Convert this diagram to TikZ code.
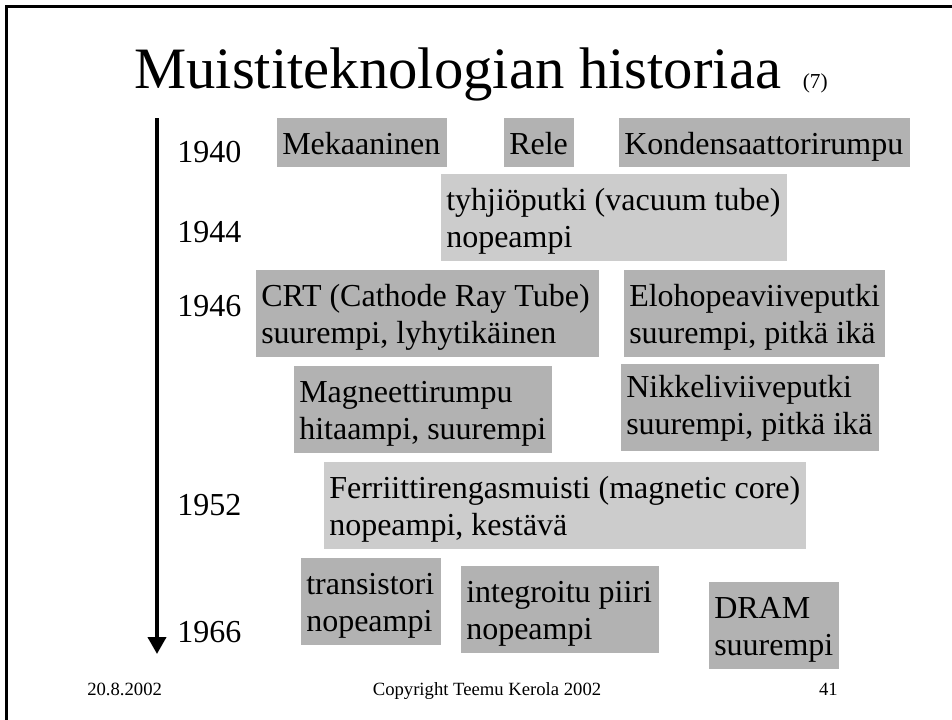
\documentclass[tikz,border=0pt]{standalone}
\usepackage{fontspec}
\setmainfont{Liberation Serif}
\newfontfamily\headfont{Liberation Serif}
\usepackage{tikz}
\usetikzlibrary{arrows.meta}
\hyphenpenalty=10000
\newlength{\pxu}
\setlength{\pxu}{0.75bp}
\definecolor{darkbox}{gray}{0.70}
\definecolor{lightbox}{gray}{0.80}
\tikzset{
  slab/.style={anchor=north west, inner xsep=5\pxu, inner ysep=0pt, align=flush left,
    font=\fontsize{24bp}{27.75bp}\selectfont, text height=36\pxu},
  oneline/.style={slab, text depth=13\pxu},
  twoline/.style={slab, text depth=51\pxu},
  year/.style={anchor=base west, inner sep=0pt, font=\fontsize{24bp}{27.75bp}\selectfont},
  foot/.style={anchor=base, inner sep=0pt, font=\fontsize{14bp}{16bp}\selectfont}
}

\begin{document}
\begin{tikzpicture}[x=0.75bp, y=-0.75bp]
  \useasboundingbox (0,0) rectangle (952,720);
  \draw[line width=2.25bp] (6.5,720) -- (6.5,6.5) -- (952,6.5);

  \node[anchor=base west, inner sep=0pt, font=\headfont\fontsize{44bp}{48bp}\selectfont] (title) at (134,88)
    {Muistiteknologian historiaa\kern7\pxu{} {\fontsize{16bp}{18bp}\selectfont (7)}};

  % time axis
  \coordinate (t0) at (157,118);
  \coordinate (t1) at (157,654);
  \draw[line width=3bp, -{Triangle[width=13.5bp, length=12.75bp]}] (t0) -- (t1);

  \foreach \yr/\yb in {1940/162, 1944/242, 1946/316, 1952/515, 1966/642} {
    \node[year] (y\yr) at (177,\yb) {\yr};
  }

  \node[oneline, fill=darkbox, text width=160\pxu] (mek) at (277,118) {Mekaaninen};
  \node[oneline, fill=darkbox, text width=60\pxu] (rele) at (504,118) {Rele};
  \node[oneline, fill=darkbox, text width=281\pxu] (kond) at (619,118) {Kondensaattorirumpu};

  \node[twoline, fill=lightbox, text width=336\pxu] (tyhj) at (441,174) {tyhjiöputki (vacuum tube)\\nopeampi};

  \node[twoline, fill=darkbox, text width=333\pxu] (crt) at (256,270) {CRT (Cathode Ray Tube)\\suurempi, lyhytikäinen};
  \node[twoline, fill=darkbox, text width=251\pxu] (eloh) at (624,270) {Elohopeaviiveputki\\suurempi, pitkä ikä};
  \node[twoline, fill=darkbox, text width=248\pxu] (magn) at (294,366) {Magneettirumpu\\hitaampi, suurempi};
  \node[twoline, fill=darkbox, text width=248\pxu, text height=33\pxu, text depth=54\pxu] (nikk) at (621,364) {Nikkeliviiveputki\\suurempi, pitkä ikä};

  \node[twoline, fill=lightbox, text width=472\pxu] (ferr) at (324,462) {Ferriittirengasmuisti (magnetic core)\\nopeampi, kestävä};

  \node[twoline, fill=darkbox, text width=130\pxu] (trans) at (301,558) {transistori\\nopeampi};
  \node[twoline, fill=darkbox, text width=188\pxu] (integ) at (461,566) {integroitu piiri\\nopeampi};
  \node[twoline, fill=darkbox, text width=120\pxu] (dram) at (709,582) {DRAM\\suurempi};

  % footer
  \node[foot, anchor=base west] (date) at (87,695) {20.8.2002};
  \node[foot] (copy) at (487,695) {Copyright Teemu Kerola 2002};
  \node[foot, anchor=base east] (num) at (838,695) {41};
\end{tikzpicture}
\end{document}
